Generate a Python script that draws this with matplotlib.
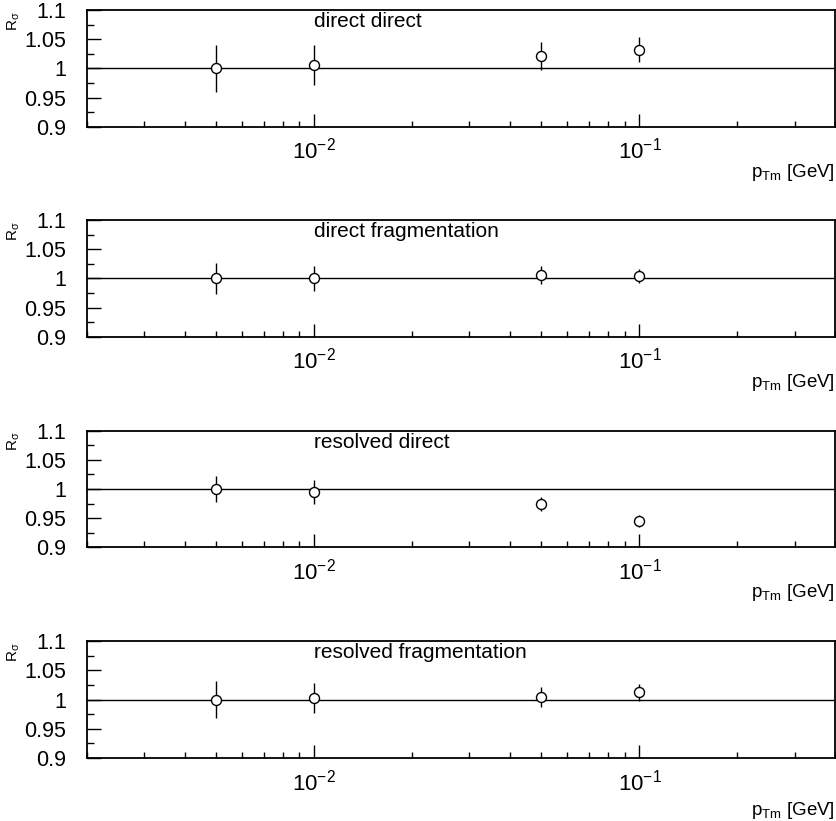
import numpy as np
import matplotlib
matplotlib.use("Agg")
import matplotlib.pyplot as plt
from matplotlib.ticker import FixedLocator, LogLocator, NullFormatter, FuncFormatter

plt.rcParams['font.family'] = ['Liberation Sans', 'DejaVu Sans']
plt.rcParams['mathtext.fontset'] = 'custom'
plt.rcParams['mathtext.rm'] = 'Liberation Sans'
plt.rcParams['mathtext.it'] = 'Liberation Sans'

# pT,min values (GeV)
ptm = [0.005, 0.01, 0.05, 0.1]

titles = ["direct direct", "direct fragmentation",
          "resolved direct", "resolved fragmentation"]

# ratio R_sigma and its errors, one list per panel
r_dir_dir = [1.000, 1.006, 1.021, 1.032]
e_dir_dir = [0.040, 0.034, 0.024, 0.021]

r_dir_frag = [1.000, 1.000, 1.006, 1.004]
e_dir_frag = [0.026, 0.022, 0.015, 0.012]

r_res_dir = [1.000, 0.995, 0.975, 0.945]
e_res_dir = [0.023, 0.020, 0.012, 0.010]

r_res_frag = [1.000, 1.003, 1.005, 1.012]
e_res_frag = [0.031, 0.026, 0.017, 0.014]

values = [r_dir_dir, r_dir_frag, r_res_dir, r_res_frag]
errors = [e_dir_dir, e_dir_frag, e_res_dir, e_res_frag]

W, H = 836, 821
fig = plt.figure(figsize=(W / 100, H / 100), dpi=100)

# axes boxes in pixels: top, bottom, x-label baseline offset
boxes = [(10, 126.7, 50), (220, 336.7, 50), (430.7, 547.3, 50), (641, 758, 57)]
left_px, right_px = 86.7, 835.3


def pow10(v, pos):
    return r'$\mathregular{10^{%d}}$' % int(round(np.log10(v)))


for (top, bot, xoff), title, vals, errs in zip(boxes, titles, values, errors):
    hpx = bot - top
    ax = fig.add_axes([left_px / W, 1 - bot / H, (right_px - left_px) / W, hpx / H])
    ax.set_xscale('log')
    ax.set_xlim(0.002, 0.4)
    ax.set_ylim(0.9, 1.1)

    ax.axhline(1.0, color='black', lw=1.0, zorder=1)
    ax.errorbar(ptm, vals, yerr=errs, fmt='o', ms=7.2, mfc='white', mec='black',
                mew=1.0, ecolor='black', elinewidth=1.0, capsize=0, zorder=3)

    ax.yaxis.set_major_locator(FixedLocator([0.9, 0.95, 1.0, 1.05, 1.1]))
    ax.yaxis.set_minor_locator(FixedLocator([0.925, 0.975, 1.025, 1.075]))
    ax.set_yticklabels(['0.9', '0.95', '1', '1.05', '1.1'])
    ax.xaxis.set_major_locator(LogLocator(base=10, numticks=10))
    ax.xaxis.set_minor_locator(LogLocator(base=10, subs=np.arange(2, 10), numticks=20))
    ax.xaxis.set_major_formatter(FuncFormatter(pow10))
    ax.xaxis.set_minor_formatter(NullFormatter())

    ax.tick_params(axis='y', which='major', direction='in', length=10, width=1.0,
                   labelsize=15.5, pad=15, right=False)
    ax.tick_params(axis='y', which='minor', direction='in', length=5, width=1.0, right=False)
    ax.tick_params(axis='x', which='major', direction='in', length=9.5, width=1.0,
                   labelsize=16, pad=8, top=False)
    ax.tick_params(axis='x', which='minor', direction='in', length=4.5, width=1.0, top=False)

    for s in ax.spines.values():
        s.set_linewidth(1.3)

    ax.text(0.01, 1 - 17 / hpx, title, transform=ax.get_xaxis_transform(),
            ha='left', va='baseline', fontsize=15)
    ax.text(1.0, -xoff / hpx, r'p$_{\mathregular{Tm}}$ [GeV]', transform=ax.transAxes,
            ha='right', va='baseline', fontsize=13.5)
    fig.text(6 / W, 1 - (top + 1) / H, r'R$_\sigma$', rotation=90, ha='left', va='top',
             fontsize=11)

fig.savefig("out.png", dpi=100)
